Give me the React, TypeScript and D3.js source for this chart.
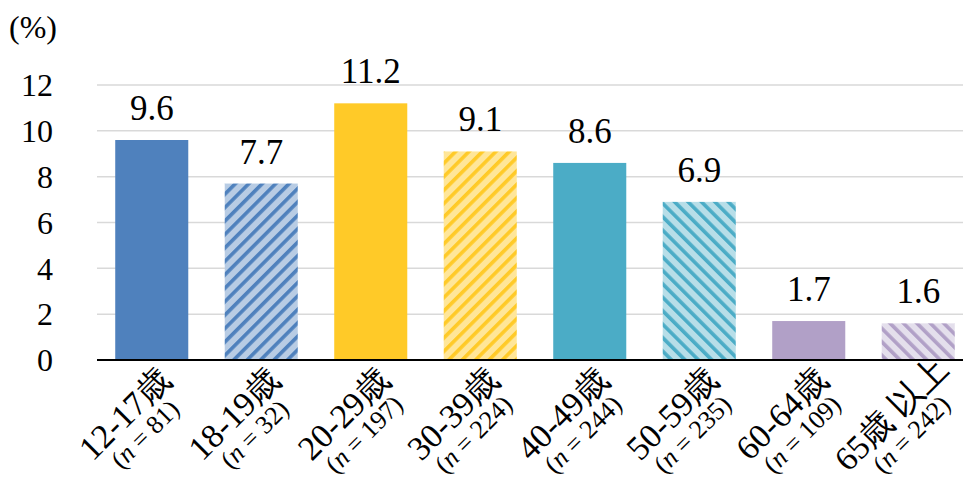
import React from "react";
import * as d3 from "d3";

const categories = ["12-17歳", "18-19歳", "20-29歳", "30-39歳", "40-49歳", "50-59歳", "60-64歳", "65歳 以上"];
const sampleSizes = ["81", "32", "197", "224", "244", "235", "109", "242"];
const values = [9.6, 7.7, 11.2, 9.1, 8.6, 6.9, 1.7, 1.6];
const yTicks = [0, 2, 4, 6, 8, 10, 12];
const fills = ["solid", "stripeUp", "solid", "stripeUp", "solid", "stripeDown", "solid", "stripeDown"];
const mainColors = ["#4f81bd", "#4f81bd", "#ffca28", "#ffca28", "#4bacc6", "#4bacc6", "#b1a0c7", "#b1a0c7"];
const lightColors = ["#b8cce4", "#b8cce4", "#ffe699", "#ffe699", "#b7dee8", "#b7dee8", "#e4dfec", "#e4dfec"];

const W = 963;
const H = 479;
const left = 97;
const right = 973;
const top = 85;
const bottom = 360;
const FONT = "Liberation Serif, DejaVu Serif, serif";

export default function App() {
  const x = d3.scaleBand<string>().domain(categories).range([left, right]).paddingInner(0.333).paddingOuter(0.1665);
  const y = d3.scaleLinear().domain([0, 12]).range([bottom, top]);

  return (
    <svg width={W} height={H} fontFamily={FONT} style={{ position: "absolute", left: 0, top: 0 }}>
      <defs>
        {categories.map((c, i) => {
          if (fills[i] === "solid") return null;
          const rot = fills[i] === "stripeUp" ? 45 : -45;
          return (
            <pattern key={c} id={`pat${i}`} patternUnits="userSpaceOnUse" width={9.5} height={9.5} patternTransform={`rotate(${rot})`}>
              <rect width={9.5} height={9.5} fill={lightColors[i]} />
              <rect width={3.6} height={9.5} fill={mainColors[i]} />
            </pattern>
          );
        })}
      </defs>
      <rect width={W} height={H} fill="#fff" />
      {yTicks.filter((t) => t > 0).map((t) => (
        <line key={t} x1={left} x2={W} y1={y(t)} y2={y(t)} stroke="#d9d9d9" strokeWidth={1.5} />
      ))}
      {yTicks.map((t) => (
        <text key={t} x={53} y={y(t)} dy="0.35em" textAnchor="end" fontSize={32} fill="#000" fontFamily={FONT}>
          {t}
        </text>
      ))}
      <text x={9} y={38} fontSize={32} fill="#000" fontFamily={FONT}>(%)</text>
      {categories.map((c, i) => {
        const bx = x(c)!;
        const bw = x.bandwidth();
        const fill = fills[i] === "solid" ? mainColors[i] : `url(#pat${i})`;
        return (
          <g key={c}>
            <rect x={bx} y={y(values[i])} width={bw} height={bottom - y(values[i])} fill={fill} />
            <text x={bx + bw / 2} y={y(values[i]) - 20} textAnchor="middle" fontSize={35} fill="#000" fontFamily={FONT}>
              {values[i].toFixed(1)}
            </text>
          </g>
        );
      })}
      <line x1={left} x2={W} y1={bottom} y2={bottom} stroke="#000" strokeWidth={2} />
      {categories.map((c, i) => {
        const cx = x(c)! + x.bandwidth() / 2;
        return (
          <g key={c} transform={`translate(${cx - 19},${422}) rotate(-45)`}>
            <text x={0} y={0} textAnchor="middle" fontSize={34} fill="#000" fontFamily={FONT}>{c}</text>
            <text x={0} y={26} textAnchor="middle" fontSize={26} fill="#000" fontFamily={FONT}>
              (<tspan fontStyle="italic">n</tspan> = {sampleSizes[i]})
            </text>
          </g>
        );
      })}
    </svg>
  );
}
